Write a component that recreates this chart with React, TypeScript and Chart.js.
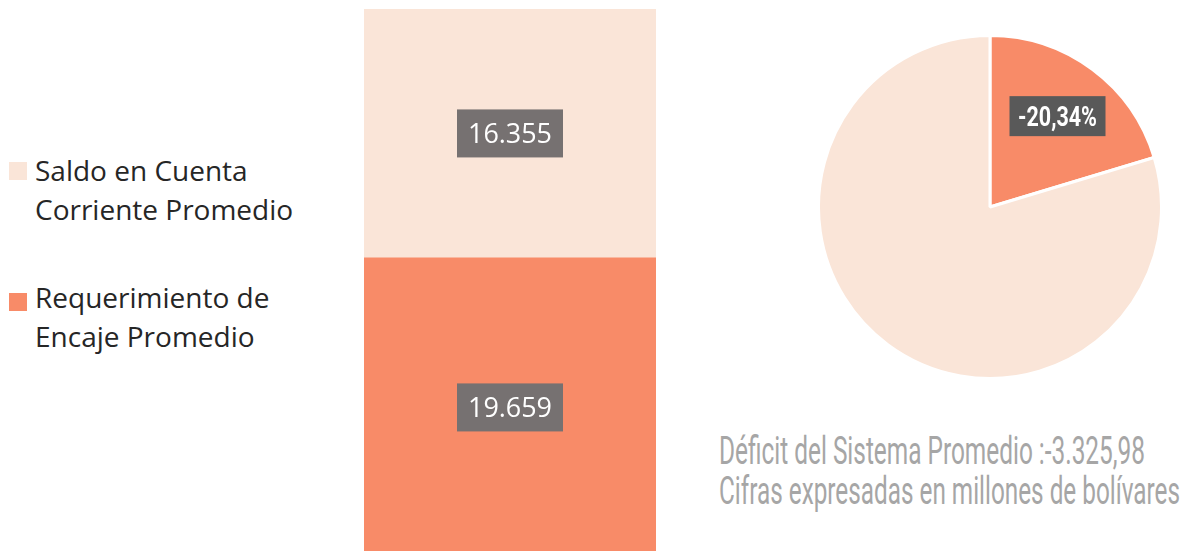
import React, { useEffect, useLayoutEffect, useRef } from "react";
import { Chart, registerables } from "chart.js";

Chart.register(...registerables);

const categories = ["Promedio"];
const saldoLabel = "Saldo en Cuenta\nCorriente Promedio";
const requerimientoLabel = "Requerimiento de\nEncaje Promedio";
const saldoValues = [16355];
const requerimientoValues = [19659];
const pieLabels = ["Déficit", "Resto"];
const pieValues = [20.34, 79.66];
const pieTextLabels = ["-20,34%", ""];
const footLines = ["Déficit del Sistema Promedio :-3.325,98", "Cifras expresadas en millones de bolívares"];

const LIGHT = "#FAE5D8";
const SALMON = "#F88B68";

function fmt(n: number): string {
  return String(n).replace(/\B(?=(\d{3})+(?!\d))/g, ".");
}

const barLabelPlugin = {
  id: "barLabels",
  afterDatasetsDraw(chart: any) {
    const ctx = chart.ctx;
    chart.data.datasets.forEach((ds: any, i: number) => {
      const meta = chart.getDatasetMeta(i);
      meta.data.forEach((el: any, j: number) => {
        const cx = el.x;
        const cy = (el.y + el.base) / 2;
        const w = 106, h = 48;
        ctx.save();
        ctx.fillStyle = "#767171";
        ctx.fillRect(cx - w / 2, cy - h / 2, w, h);
        ctx.fillStyle = "#FFFFFF";
        ctx.font = "27px 'Open Sans'";
        ctx.textAlign = "center";
        ctx.textBaseline = "alphabetic";
        ctx.fillText(fmt(ds.data[j]), cx, cy + 10, 84);
        ctx.restore();
      });
    });
  },
};

const pieLabelPlugin = {
  id: "pieLabels",
  afterDatasetsDraw(chart: any) {
    const ctx = chart.ctx;
    const meta = chart.getDatasetMeta(0);
    meta.data.forEach((el: any, j: number) => {
      const txt = pieTextLabels[j];
      if (!txt) return;
      const mid = (el.startAngle + el.endAngle) / 2;
      const r = el.outerRadius * 0.66;
      const cx = el.x + Math.cos(mid) * r;
      const cy = el.y + Math.sin(mid) * r;
      const w = 96, h = 40;
      ctx.save();
      ctx.fillStyle = "#595959";
      ctx.fillRect(cx - w / 2, cy - h / 2, w, h);
      ctx.fillStyle = "#FFFFFF";
      ctx.font = "bold 27px Roboto";
      ctx.textAlign = "center";
      ctx.textBaseline = "alphabetic";
      ctx.fillText(txt, cx, cy + 10, 79);
      ctx.restore();
    });
  },
};

function FootLine({ text, top, width }: { text: string; top: number; width: number }) {
  const ref = useRef<HTMLDivElement>(null);
  useLayoutEffect(() => {
    const el = ref.current;
    if (!el) return;
    el.style.transform = "none";
    const w = el.getBoundingClientRect().width;
    if (w > 0) el.style.transform = `scaleX(${width / w})`;
  }, [text, width]);
  return (
    <div
      ref={ref}
      style={{
        position: "absolute",
        left: 719,
        top,
        whiteSpace: "nowrap",
        fontFamily: "Roboto",
        fontWeight: 400,
        fontSize: 39,
        lineHeight: "39px",
        color: "#A6A6A6",
        transformOrigin: "left top",
        display: "inline-block",
      }}
    >
      {text}
    </div>
  );
}

export default function App() {
  const barRef = useRef<HTMLCanvasElement>(null);
  const pieRef = useRef<HTMLCanvasElement>(null);

  useEffect(() => {
    const bar = new Chart(barRef.current as HTMLCanvasElement, {
      type: "bar",
      data: {
        labels: categories,
        datasets: [
          { label: requerimientoLabel, data: requerimientoValues, backgroundColor: SALMON, barPercentage: 1, categoryPercentage: 1 },
          { label: saldoLabel, data: saldoValues, backgroundColor: LIGHT, barPercentage: 1, categoryPercentage: 1 },
        ],
      },
      options: {
        animation: false,
        responsive: true,
        maintainAspectRatio: false,
        layout: { padding: 0 },
        plugins: { legend: { display: false }, tooltip: { enabled: false } },
        scales: {
          x: { display: false, stacked: true },
          y: {
            display: false,
            stacked: true,
            min: 0,
            max: saldoValues[0] + requerimientoValues[0],
          },
        },
      },
      plugins: [barLabelPlugin],
    });
    const pie = new Chart(pieRef.current as HTMLCanvasElement, {
      type: "pie",
      data: {
        labels: pieLabels,
        datasets: [
          {
            data: pieValues,
            backgroundColor: [SALMON, LIGHT],
            borderColor: "#FFFFFF",
            borderWidth: 3,
          },
        ],
      },
      options: {
        animation: false,
        responsive: true,
        maintainAspectRatio: false,
        layout: { padding: 0 },
        plugins: { legend: { display: false }, tooltip: { enabled: false } },
      },
      plugins: [pieLabelPlugin],
    });
    return () => {
      bar.destroy();
      pie.destroy();
    };
  }, []);

  const legendItems = [
    { text: saldoLabel, color: LIGHT, top: 151, sq: 162 },
    { text: requerimientoLabel, color: SALMON, top: 278, sq: 293 },
  ];

  return (
    <div style={{ position: "fixed", left: 0, top: 0, width: 1195, height: 551, overflow: "hidden", background: "#FFFFFF" }}>
      {legendItems.map((it, i) => (
        <React.Fragment key={i}>
          <div style={{ position: "absolute", left: 9, top: it.sq, width: 18, height: 18, background: it.color }} />
          <div
            style={{
              position: "absolute",
              left: 35,
              top: it.top,
              whiteSpace: "pre-line",
              fontFamily: "'Open Sans'",
              fontSize: 28,
              lineHeight: "39px",
              color: "#262626",
            }}
          >
            {it.text}
          </div>
        </React.Fragment>
      ))}
      <div style={{ position: "absolute", left: 364, top: 9, width: 292, height: 548 }}>
        <canvas ref={barRef} />
      </div>
      <div style={{ position: "absolute", left: 817, top: 34, width: 346, height: 346 }}>
        <canvas ref={pieRef} />
      </div>
      <FootLine text={footLines[0]} top={432} width={426} />
      <FootLine text={footLines[1]} top={472} width={461} />
    </div>
  );
}
